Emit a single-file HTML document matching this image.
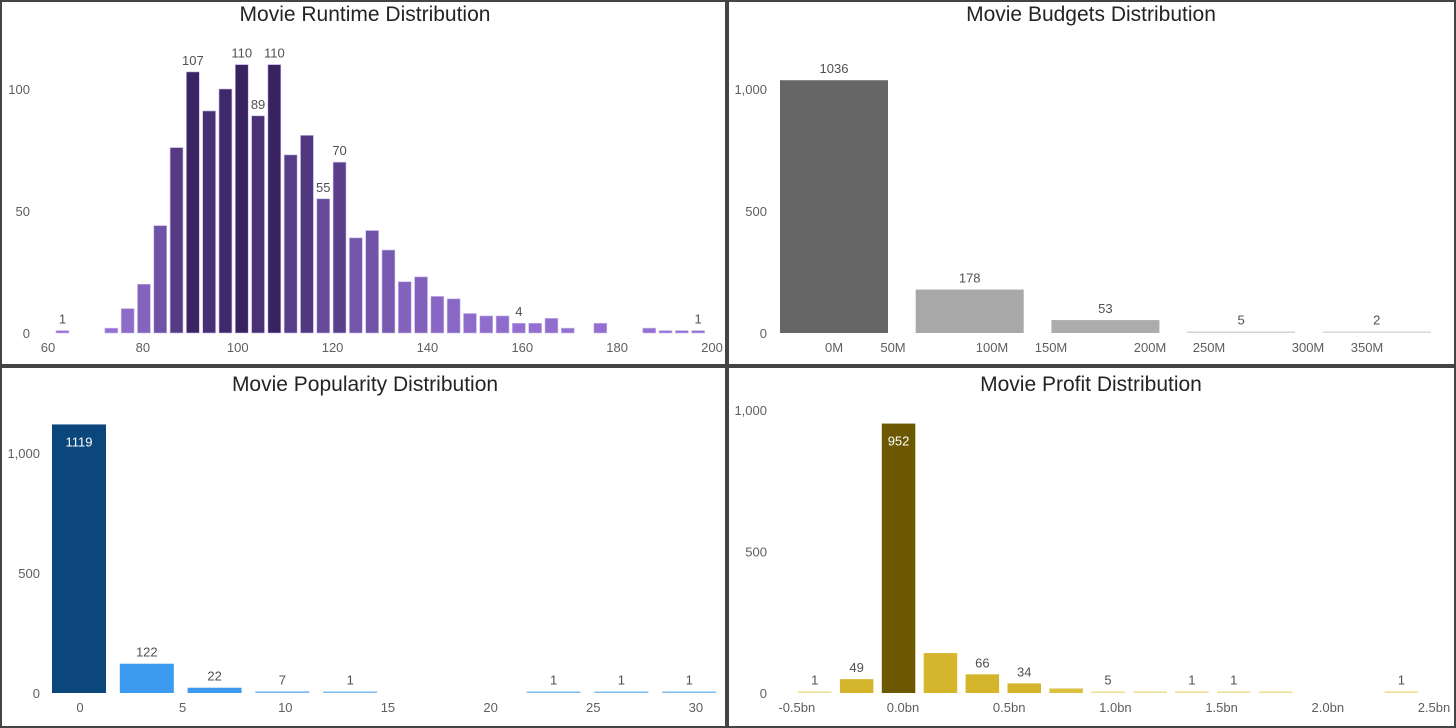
<!DOCTYPE html>
<html><head><meta charset="utf-8"><style>
html,body{margin:0;padding:0;background:#fff;}
svg{display:block;font-family:"Segoe UI","Liberation Sans",sans-serif;}
.tick{font-size:13px;fill:#605e5c;}
.lbl{font-size:13px;fill:#505050;}
.title{font-size:21px;fill:#252423;}
</style></head><body>
<svg id="root" width="1456" height="728" viewBox="0 0 1456 728">
<g stroke="#444" stroke-width="2" fill="none">
<rect x="1" y="1" width="725" height="364"/>
<rect x="728" y="1" width="727" height="364"/>
<rect x="1" y="367" width="725" height="360"/>
<rect x="728" y="367" width="727" height="360"/>
</g>
<text class="title" x="365" y="21" text-anchor="middle">Movie Runtime Distribution</text>
<text class="title" x="1091" y="21" text-anchor="middle">Movie Budgets Distribution</text>
<text class="title" x="365" y="391" text-anchor="middle">Movie Popularity Distribution</text>
<text class="title" x="1091" y="391" text-anchor="middle">Movie Profit Distribution</text>
<g id="g-runtime"></g>
<g id="g-budget"></g>
<g id="g-pop"></g>
<g id="g-profit"></g>
</svg>
<script>
// Runtime
const runtimeCounts = [1,0,0,2,10,20,44,76,107,91,100,110,89,110,73,81,55,70,39,42,34,21,23,15,14,8,7,7,4,4,6,2,0,4,0,0,2,1,1,1];
const runtimeLabeled = [0,8,11,12,13,16,17,28,39];
const runtimeXTicks = [60,80,100,120,140,160,180,200];
const runtimeYTicks = [0,50,100];
// Budget
const budgetCounts = [1036,178,53,5,2];
const budgetXTicks = ["0M","50M","100M","150M","200M","250M","300M","350M"];
const budgetXTickVals = [0,50,100,150,200,250,300,350];
const budgetYTicks = [0,500,1000];
// Popularity
const popCounts = [1119,122,22,7,1,0,0,1,1,1];
const popXTicks = [0,5,10,15,20,25,30];
const popYTicks = [0,500,1000];
// Profit
const profitCounts = [1,49,952,141,66,34,16,5,2,1,1,2,0,0,1];
const profitLabeled = [0,1,2,4,5,7,9,10,14];
const profitXTicks = [-0.5,0,0.5,1.0,1.5,2.0,2.5];
const profitYTicks = [0,500,1000];

const NS="http://www.w3.org/2000/svg";
function mk(parent,tag,attrs,text){const e=document.createElementNS(NS,tag);for(const k in attrs)e.setAttribute(k,attrs[k]);if(text!==undefined)e.textContent=text;parent.appendChild(e);return e;}
function lerpColor(a,b,t){const pa=a.match(/\w\w/g).map(h=>parseInt(h,16)),pb=b.match(/\w\w/g).map(h=>parseInt(h,16));return "rgb("+pa.map((v,i)=>Math.round(v+(pb[i]-v)*t)).join(",")+")";}
function yLab(v){return v===1000?"1,000":String(v);}

// ---- Runtime
(function(){
const g=document.getElementById('g-runtime');
const y0=333, yk=2.44;
const y=v=>y0-v*yk;
const x=v=>48+(v-60)*4.743;
const step=16.3, left0=56, bw=12.9;
const maxV=Math.max(...runtimeCounts);
runtimeYTicks.forEach(t=>{const e=mk(g,'text',{class:'tick',x:30,y:y(t)+5,'text-anchor':'end'},String(t));
});
runtimeXTicks.forEach(t=>{const e=mk(g,'text',{class:'tick',x:x(t),y:352,'text-anchor':'middle'},String(t));
});
runtimeCounts.forEach((v,i)=>{if(!v)return;
const lx=left0+i*step;
const r=mk(g,'rect',{x:lx,y:y(v),width:bw,height:v*yk,fill:lerpColor('9572d4','382260',v/maxV),stroke:'#c9b8ea','stroke-width':0.6});

if(runtimeLabeled.includes(i)){const t=mk(g,'text',{class:'lbl',x:lx+bw/2,y:y(v)-7,'text-anchor':'middle'},String(v));
}
});
})();

// ---- Budget
(function(){
const g=document.getElementById('g-budget');
const y0=333, yk=0.244;
const y=v=>y0-v*yk;
const x=v=>834+v*1.58;
budgetYTicks.forEach(t=>{const e=mk(g,'text',{class:'tick',x:767,y:y(t)+5,'text-anchor':'end'},yLab(t));
});
budgetXTicks.forEach((t,i)=>{const e=mk(g,'text',{class:'tick',x:x(budgetXTickVals[i])-(i%2?20:0),y:352,'text-anchor':'middle'},t);
});
const cols=['#666666','#a8a8a8','#acacac','#d4d4d4','#d8d8d8'];
budgetCounts.forEach((v,i)=>{const lx=780+i*135.7,bw=108;
const h=Math.max(v*yk,1.5);
const r=mk(g,'rect',{x:lx,y:y0-h,width:bw,height:h,fill:cols[i]});

const t=mk(g,'text',{class:'lbl',x:lx+bw/2,y:y0-h-7,'text-anchor':'middle'},String(v));

});
})();

// ---- Popularity
(function(){
const g=document.getElementById('g-pop');
const y0=693, yk=0.24;
const y=v=>y0-v*yk;
const x=v=>80+v*20.53;
popYTicks.forEach(t=>{const e=mk(g,'text',{class:'tick',x:40,y:y(t)+5,'text-anchor':'end'},yLab(t));
});
popXTicks.forEach(t=>{const e=mk(g,'text',{class:'tick',x:x(t),y:712,'text-anchor':'middle'},String(t));
});
const maxV=Math.max(...popCounts);
popCounts.forEach((v,i)=>{if(!v)return;const lx=52+i*67.8,bw=54;
const h=Math.max(v*yk,1.5);
const fill=v===maxV?'#0b467d':(v>=20?'#3d9bef':'#7cbcf2');
const r=mk(g,'rect',{x:lx,y:y0-h,width:bw,height:h,fill:fill});

const inside=v===maxV;
const t=mk(g,'text',{class:'lbl',x:lx+bw/2,y:inside?y0-h+22:y0-h-7,'text-anchor':'middle',style:inside?'fill:#fff':''},String(v));

});
})();

// ---- Profit
(function(){
const g=document.getElementById('g-profit');
const y0=693, yk=0.283;
const y=v=>y0-v*yk;
const x=v=>903+v*212.4;
profitYTicks.forEach(t=>{const e=mk(g,'text',{class:'tick',x:767,y:y(t)+5,'text-anchor':'end'},yLab(t));
});
profitXTicks.forEach(t=>{const e=mk(g,'text',{class:'tick',x:x(t),y:712,'text-anchor':'middle'},t.toFixed(1)+'bn');
});
const maxV=Math.max(...profitCounts);
profitCounts.forEach((v,i)=>{if(!v)return;const lx=798+i*41.9,bw=33.5;
const h=Math.max(v*yk,1.5);
const fill=v===maxV?'#6b5800':(v>=30?'#d4b52c':(v>=10?'#dcc040':'#ecdc8e'));
const r=mk(g,'rect',{x:lx,y:y0-h,width:bw,height:h,fill:fill});

if(profitLabeled.includes(i)){const inside=v===maxV;
const t=mk(g,'text',{class:'lbl',x:lx+bw/2,y:inside?y0-h+22:y0-h-7,'text-anchor':'middle',style:inside?'fill:#fff':''},String(v));
}
});
})();
</script>
</body></html>
